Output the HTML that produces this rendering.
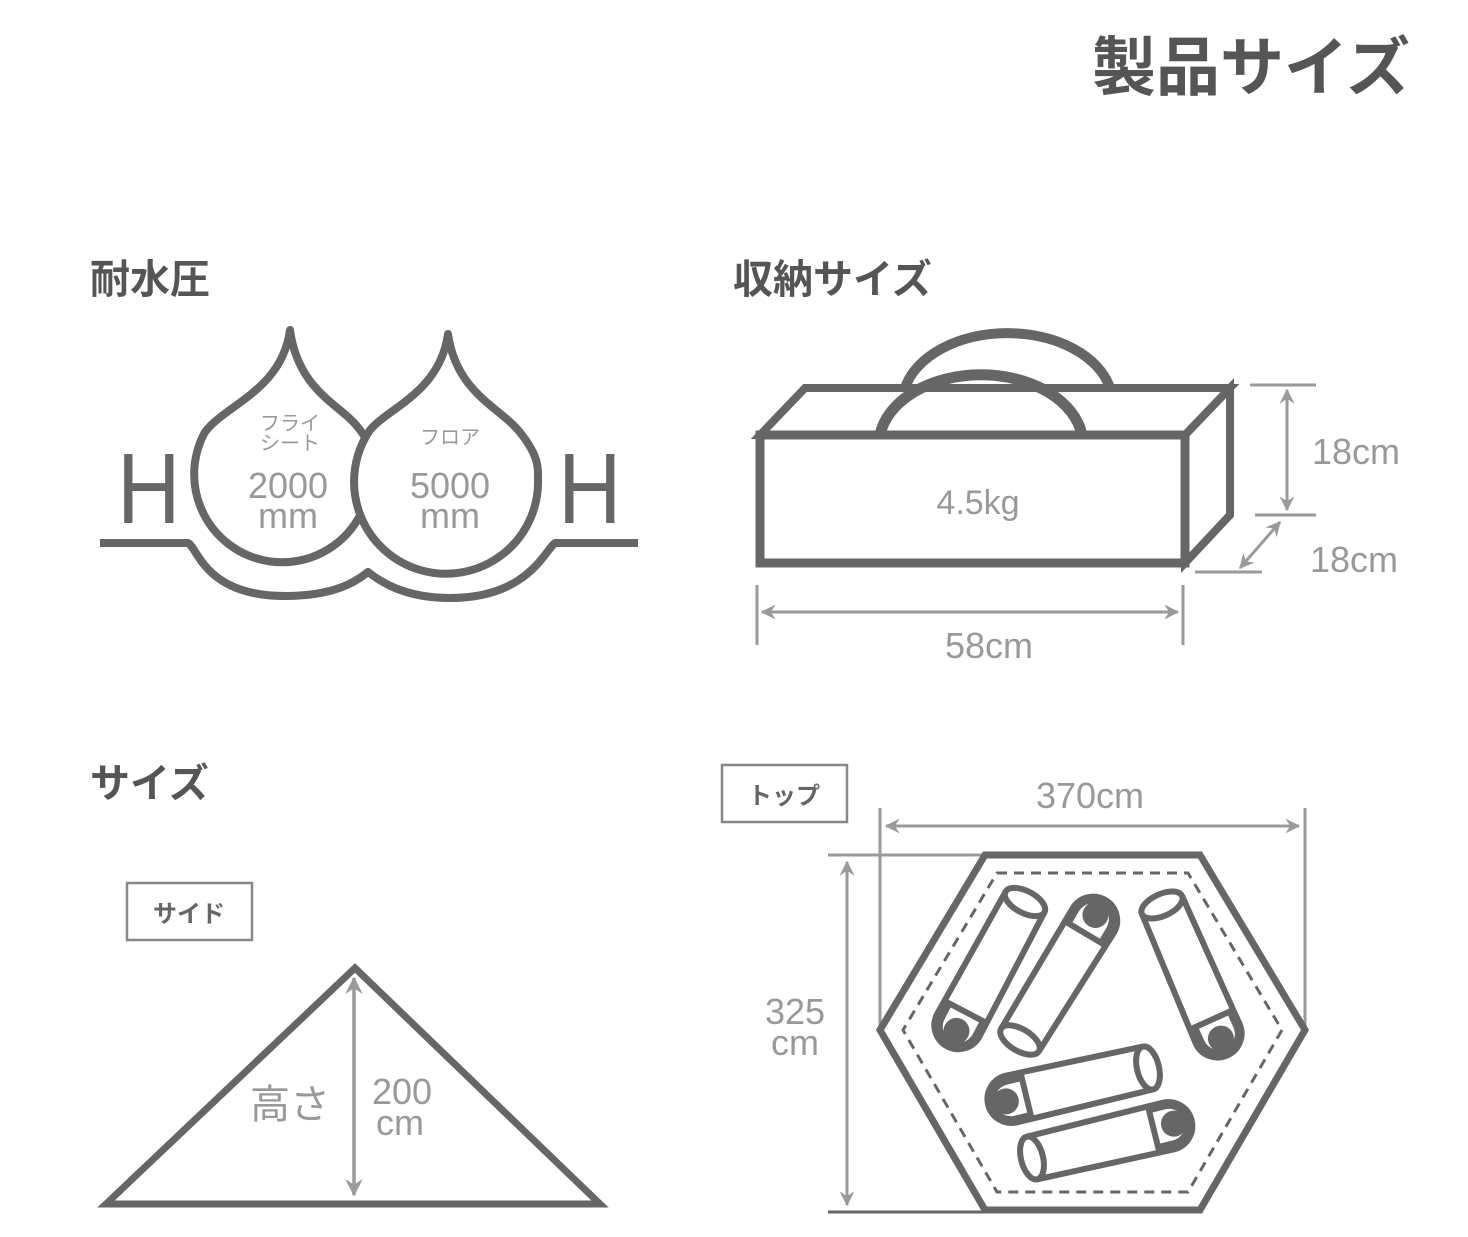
<!DOCTYPE html>
<html><head><meta charset="utf-8"><style>
html,body{margin:0;padding:0;background:#fff;}
svg{display:block;}
text{font-family:"Liberation Sans","Noto Sans CJK JP",sans-serif;}
</style></head><body>
<svg width="1468" height="1237" viewBox="0 0 1468 1237" xmlns="http://www.w3.org/2000/svg">
<defs>
<marker id="a" viewBox="0 0 12 12" refX="11" refY="6" markerWidth="5" markerHeight="5" orient="auto-start-reverse" markerUnits="strokeWidth">
<path d="M0,0 L12,6 L0,12 L4,6 z" fill="#9a9a9a"/></marker>
<g id="bag">
 <path d="M0,-22 L140,-22 A24,24 0 0 1 140,26 L0,22" fill="#fff" stroke="#666" stroke-width="6" stroke-linejoin="round"/>
 <ellipse cx="0" cy="0" rx="11" ry="22" fill="#fff" stroke="#666" stroke-width="6"/>
 <path d="M122,-22 L122,24 L140,24 A23,23 0 0 0 140,-22 Z" fill="#666"/>
 <path d="M128,-15 L128,17 L141,17 A16,16 0 0 0 141,-15 Z" fill="#fff"/>
 <circle cx="146" cy="1" r="13" fill="#666"/>
</g>
</defs>

<text x="1092" y="90" font-size="64" font-weight="bold" fill="#555">製品サイズ</text>

<text x="90" y="293" font-size="40" font-weight="bold" fill="#555">耐水圧</text>
<text x="733" y="293" font-size="40" font-weight="bold" fill="#555">収納サイズ</text>
<text x="90" y="797" font-size="40" font-weight="bold" fill="#555">サイズ</text>

<g fill="none" stroke="#666" stroke-width="8" stroke-linejoin="round">
<path d="M100,543 H188 C198,548 205,596 285,596 C340,596 360,578 368,572 C376,578 400,598 450,598 C528,598 545,550 555,543 H638"/>
<path d="M290,330 C298,390 340,405 356,425 C378,450 372,470 370,480 A88,88 0 1 1 205,432 C225,405 282,390 290,330 Z" fill="#fff"/>
<path d="M448,334 C456,392 500,408 518,430 C540,456 538,470 538,478 A92,92 0 1 1 370,430 C388,408 440,392 448,334 Z" fill="#fff"/>
</g>
<text x="0" y="0" font-size="100" fill="#666" transform="translate(117,523) scale(0.88,1)">H</text>
<text x="0" y="0" font-size="100" fill="#666" transform="translate(558,523) scale(0.88,1)">H</text>
<text x="290" y="430" font-size="20" fill="#999" text-anchor="middle">フライ</text>
<text x="290" y="450" font-size="20" fill="#999" text-anchor="middle">シート</text>
<text x="288" y="498" font-size="36" fill="#999" text-anchor="middle">2000</text>
<text x="288" y="528" font-size="36" fill="#999" text-anchor="middle">mm</text>
<text x="450" y="444" font-size="20" fill="#999" text-anchor="middle">フロア</text>
<text x="450" y="498" font-size="36" fill="#999" text-anchor="middle">5000</text>
<text x="450" y="528" font-size="36" fill="#999" text-anchor="middle">mm</text>

<g fill="none" stroke="#666" stroke-width="10" stroke-linejoin="miter">
<path d="M905,388 A105,70 0 0 1 1110,388"/>
<polygon points="760,435 805,388 1230,388 1185,435" fill="#fff" stroke-width="8"/>
<path d="M880,435 A102,70 0 0 1 1082,435" stroke-width="11"/>
<rect x="760" y="435" width="425" height="128" stroke-width="9"/>
<polygon points="1185,435 1230,388 1230,515 1185,563" stroke-width="8"/>
</g>
<text x="978" y="514" font-size="34" fill="#999" text-anchor="middle">4.5kg</text>
<g stroke="#9a9a9a" stroke-width="3" fill="none">
<line x1="1250" y1="385" x2="1316" y2="385"/>
<line x1="1255" y1="515" x2="1316" y2="515"/>
<line x1="1287" y1="390" x2="1287" y2="510" marker-start="url(#a)" marker-end="url(#a)"/>
<line x1="1195" y1="572" x2="1262" y2="572"/>
<line x1="1240" y1="568" x2="1280" y2="522" marker-start="url(#a)" marker-end="url(#a)"/>
<line x1="757" y1="585" x2="757" y2="645"/>
<line x1="1183" y1="585" x2="1183" y2="645"/>
<line x1="762" y1="612" x2="1178" y2="612" marker-start="url(#a)" marker-end="url(#a)"/>
</g>
<text x="1312" y="464" font-size="36" fill="#999">18cm</text>
<text x="1310" y="572" font-size="36" fill="#999">18cm</text>
<text x="989" y="658" font-size="36" fill="#999" text-anchor="middle">58cm</text>

<rect x="127" y="883" width="125" height="57" fill="none" stroke="#888" stroke-width="2.5"/>
<text x="189" y="922" font-size="24" font-weight="bold" fill="#666" text-anchor="middle">サイド</text>
<polygon points="106,1204 355,968 600,1204" fill="none" stroke="#666" stroke-width="7" stroke-linejoin="miter"/>
<line x1="354" y1="978" x2="354" y2="1195" stroke="#9a9a9a" stroke-width="3.5" marker-start="url(#a)" marker-end="url(#a)"/>
<text x="290" y="1118" font-size="40" fill="#999" text-anchor="middle">高さ</text>
<text x="402" y="1104" font-size="36" fill="#999" text-anchor="middle">200</text>
<text x="400" y="1135" font-size="36" fill="#999" text-anchor="middle">cm</text>

<rect x="722" y="765" width="125" height="57" fill="none" stroke="#888" stroke-width="2.5"/>
<text x="784" y="804" font-size="24" font-weight="bold" fill="#666" text-anchor="middle">トップ</text>
<g stroke="#9a9a9a" stroke-width="3" fill="none">
<line x1="880" y1="808" x2="880" y2="1030"/>
<line x1="1305" y1="808" x2="1305" y2="1030"/>
<line x1="886" y1="826" x2="1299" y2="826" marker-start="url(#a)" marker-end="url(#a)"/>
<line x1="828" y1="855" x2="985" y2="855"/>
<line x1="847" y1="862" x2="847" y2="1205" marker-start="url(#a)" marker-end="url(#a)"/>
</g>
<line x1="828" y1="1212" x2="985" y2="1212" stroke="#666" stroke-width="3"/>
<text x="1090" y="808" font-size="36" fill="#999" text-anchor="middle">370cm</text>
<text x="795" y="1024" font-size="36" fill="#999" text-anchor="middle">325</text>
<text x="795" y="1055" font-size="36" fill="#999" text-anchor="middle">cm</text>
<polygon points="985,855 1200,855 1305,1030 1200,1210 985,1210 880,1030" fill="#fff" stroke="#666" stroke-width="7"/>
<polygon points="997,873 1188,873 1282,1030 1188,1192 997,1192 903,1030" fill="none" stroke="#666" stroke-width="3" stroke-dasharray="10,7"/>
<use href="#bag" transform="translate(1025,902) rotate(117.6)"/>
<use href="#bag" transform="translate(1020,1040) rotate(-59.3)"/>
<use href="#bag" transform="translate(1162,905) rotate(65.8)"/>
<use href="#bag" transform="translate(1148,1068) rotate(166.4)"/>
<use href="#bag" transform="translate(1032,1158) rotate(-14)"/>
</svg>
</body></html>
